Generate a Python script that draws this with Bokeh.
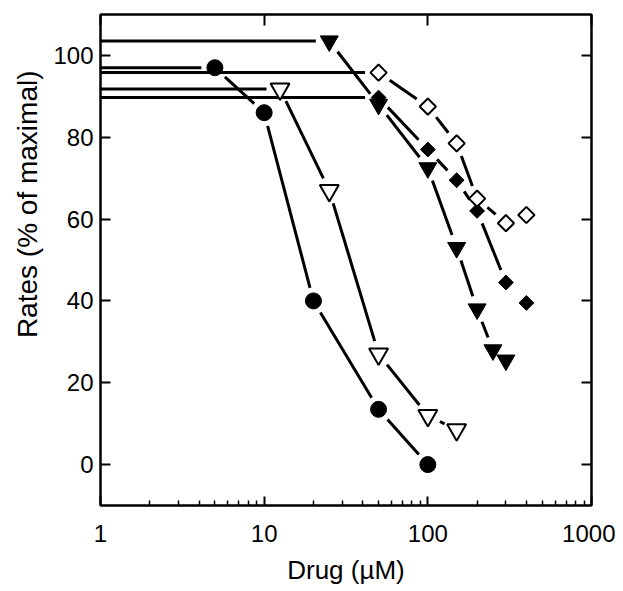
import numpy as np
from bokeh.plotting import figure
from bokeh.models import LogAxis, LinearAxis, Title, FixedTicker, Range1d, NumeralTickFormatter
from bokeh.embed import file_html
from bokeh.resources import INLINE

# ---- data ----
circle_x = [5, 10, 20, 50, 100]
circle_y = [97, 86, 40, 13.5, 0]

open_tri_x = [12.5, 25, 50, 100, 150]
open_tri_y = [91.8, 67, 27, 12, 8.5]

tri_x = [25, 50, 100, 150, 200, 250, 300]
tri_y = [103.5, 88, 72.5, 53, 38, 28, 25.5]

diam_x = [50, 100, 150, 200, 300, 400]
diam_y = [89.7, 77, 69.5, 62, 44.5, 39.5]

open_diam_x = [50, 100, 150, 200, 300, 400]
open_diam_y = [95.8, 87.5, 78.5, 65, 59, 61]

x_ticks = [1, 10, 100, 1000]
x_minor = [m * d for d in (1, 10, 100) for m in range(2, 10)]
y_ticks = [0, 20, 40, 60, 80, 100]

X_RANGE = (1, 1000)
Y_RANGE = (-10, 110)
FW, FH = 491, 491
GAP = 13.5
FONT = "Liberation Sans"

p = figure(x_axis_type="log", x_range=Range1d(*X_RANGE), y_range=Range1d(*Y_RANGE),
           frame_width=FW, frame_height=FH, output_backend="svg", toolbar_location=None,
           min_border_left=100, min_border_right=24, min_border_top=14, min_border_bottom=84)
p.background_fill_color = "white"
p.border_fill_color = "white"
p.grid.visible = False
p.outline_line_color = "black"
p.outline_line_width = 2

# pixel scale factors
sx = FW / (np.log10(X_RANGE[1]) - np.log10(X_RANGE[0]))
sy = FH / (Y_RANGE[1] - Y_RANGE[0])


def gapped_segments(xs, ys):
    # control line from the left edge to the first point, then points joined with gaps
    px = [np.log10(X_RANGE[0])] + list(np.log10(xs))
    py = [ys[0]] + list(ys)
    x0, y0, x1, y1 = [], [], [], []
    for i in range(len(px) - 1):
        ax, ay = px[i] * sx, py[i] * sy
        bx, by = px[i + 1] * sx, py[i + 1] * sy
        L = np.hypot(bx - ax, by - ay)
        g0 = 0 if i == 0 else GAP
        g1 = GAP
        if L - g0 - g1 < 3:
            continue
        ux, uy = (bx - ax) / L, (by - ay) / L
        sa = (ax + ux * g0, ay + uy * g0)
        sb = (bx - ux * g1, by - uy * g1)
        x0.append(10 ** (sa[0] / sx)); y0.append(sa[1] / sy)
        x1.append(10 ** (sb[0] / sx)); y1.append(sb[1] / sy)
    return x0, y0, x1, y1


series = [
    (circle_x, circle_y, dict(marker="circle", size=16, fill_color="black", line_color="black", line_width=1)),
    (open_tri_x, open_tri_y, dict(marker="inverted_triangle", size=19, fill_color="white", line_color="black", line_width=2)),
    (tri_x, tri_y, dict(marker="inverted_triangle", size=18, fill_color="black", line_color="black", line_width=1)),
    (diam_x, diam_y, dict(marker="square", size=10.5, angle=np.pi / 4, fill_color="black", line_color="black", line_width=1)),
    (open_diam_x, open_diam_y, dict(marker="square", size=11.5, angle=np.pi / 4, fill_color="white", line_color="black", line_width=2)),
]

for xs, ys, _ in series:
    x0, y0, x1, y1 = gapped_segments(xs, ys)
    p.segment(x0=x0, y0=y0, x1=x1, y1=y1, line_color="black", line_width=3)

for xs, ys, kw in series:
    p.scatter(x=xs, y=ys, **kw)

# bottom axis
xa = p.xaxis[0]
xa.ticker = FixedTicker(ticks=x_ticks, minor_ticks=x_minor)
xa.formatter = NumeralTickFormatter(format="0")
xa.major_tick_in = 9
xa.major_tick_out = 0
xa.minor_tick_in = 5
xa.minor_tick_out = 0
xa.axis_line_width = 2
xa.major_tick_line_width = 2
xa.minor_tick_line_width = 1.5
xa.major_label_text_font = FONT
xa.major_label_text_font_size = "24px"
xa.major_label_text_color = "black"
xa.major_label_standoff = 19
xa.axis_label = "Drug (\u00b5M)"
xa.axis_label_text_font = FONT
xa.axis_label_text_font_size = "26px"
xa.axis_label_text_font_style = "normal"
xa.axis_label_text_color = "black"
xa.axis_label_standoff = 10

# left axis
ya = p.yaxis[0]
ya.ticker = FixedTicker(ticks=y_ticks, minor_ticks=[])
ya.major_tick_in = 10
ya.major_tick_out = 0
ya.minor_tick_line_color = None
ya.axis_line_width = 2
ya.major_tick_line_width = 2
ya.major_label_text_font = FONT
ya.major_label_text_font_size = "24px"
ya.major_label_text_color = "black"
ya.major_label_standoff = 7

# top and right mirrored ticks
top = LogAxis(ticker=FixedTicker(ticks=x_ticks, minor_ticks=[]), major_tick_in=11, major_tick_out=0,
              minor_tick_line_color=None, major_label_text_font_size="1px", major_label_text_color=None,
              major_label_standoff=0, axis_line_width=2, major_tick_line_width=2)
p.add_layout(top, "above")
right = LinearAxis(ticker=FixedTicker(ticks=y_ticks, minor_ticks=[]), major_tick_in=10, major_tick_out=0,
                   minor_tick_line_color=None, major_label_text_font_size="1px", major_label_text_color=None,
                   major_label_standoff=0, axis_line_width=2, major_tick_line_width=2)
p.add_layout(right, "right")

ylab = Title(text="Rates (% of maximal)", align="right", vertical_align="top", offset=56, standoff=11,
             text_font=FONT, text_font_size="28px", text_font_style="normal", text_color="black")
p.add_layout(ylab, "left")

open("out.html", "w").write(file_html(p, INLINE))
